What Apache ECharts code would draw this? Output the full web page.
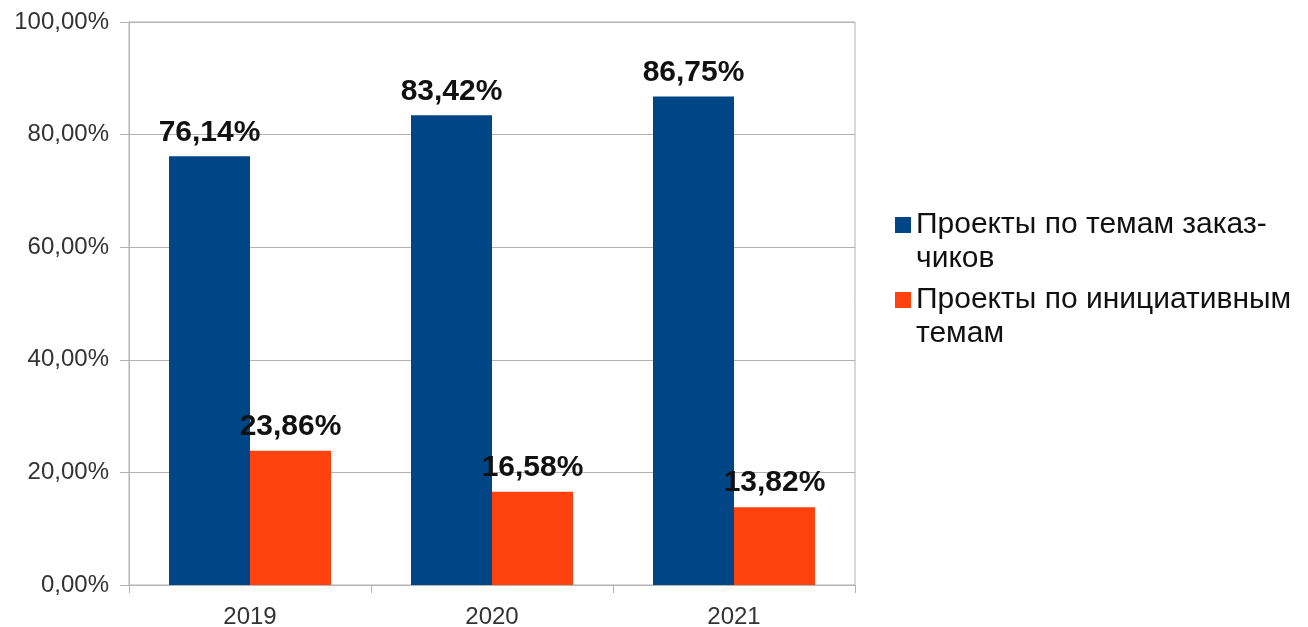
<!DOCTYPE html>
<html><head><meta charset="utf-8">
<script src="https://cdn.jsdelivr.net/npm/echarts@6/dist/echarts.min.js"></script>
<style>html,body{margin:0;padding:0;background:#fff}#c{width:1308px;height:627px}</style>
</head><body><div id="c"></div>
<script>
const categories = ['2019', '2020', '2021'];
const seriesNames = ['Проекты по темам заказчиков', 'Проекты по инициативным темам'];
const legendLabels = ['Проекты по темам заказ-\nчиков', 'Проекты по инициативным\nтемам'];
const customerTopics = [76.14, 83.42, 86.75];
const initiativeTopics = [23.86, 16.58, 13.82];
const colors = ['#004586', '#ff420e'];

const fmt = v => v.toFixed(2).replace('.', ',') + '%';
const FONT = 'Liberation Sans';
const iconPath = 'path://M0,0L0.01,0L0,0.01Z M0,9H16V25H0Z M0,68L0.01,68L0,68.01Z';

const chart = echarts.init(document.getElementById('c'));
chart.setOption({
  animation: false,
  color: colors,
  grid: { left: 129, right: 453, top: 22, bottom: 42, show: true, borderColor: '#b3b3b3', borderWidth: 1,
    containLabel: false, outerBoundsMode: 'none' },
  legend: {
    orient: 'vertical', left: 895, top: 208, padding: 0,
    itemWidth: 16, itemHeight: 68, itemGap: 7,
    icon: iconPath,
    data: seriesNames,
    formatter: name => legendLabels[seriesNames.indexOf(name)],
    textStyle: { fontFamily: FONT, fontSize: 30, lineHeight: 34, color: '#111' }
  },
  xAxis: {
    type: 'category', data: categories,
    axisLine: { lineStyle: { color: '#b3b3b3' } },
    axisTick: { show: true, length: 8, lineStyle: { color: '#b3b3b3' } },
    axisLabel: { fontFamily: FONT, fontSize: 24, color: '#333', margin: 20 }
  },
  yAxis: {
    type: 'value', min: 0, max: 100, interval: 20,
    axisLine: { show: true, lineStyle: { color: '#b3b3b3' } },
    axisTick: { show: true, length: 9, lineStyle: { color: '#b3b3b3' } },
    splitLine: { lineStyle: { color: '#b3b3b3' } },
    axisLabel: { fontFamily: FONT, fontSize: 24, color: '#333', margin: 20, formatter: fmt }
  },
  series: [
    { name: seriesNames[0], type: 'bar', data: customerTopics, barWidth: 81, barGap: '0%',
      label: { show: true, position: 'top', distance: 9, formatter: p => fmt(p.value),
        fontFamily: FONT, fontSize: 30, fontWeight: 'bold', color: '#111' } },
    { name: seriesNames[1], type: 'bar', data: initiativeTopics, barWidth: 81, barGap: '0%',
      label: { show: true, position: 'top', distance: 9, formatter: p => fmt(p.value),
        fontFamily: FONT, fontSize: 30, fontWeight: 'bold', color: '#111' } }
  ]
});
</script></body></html>
